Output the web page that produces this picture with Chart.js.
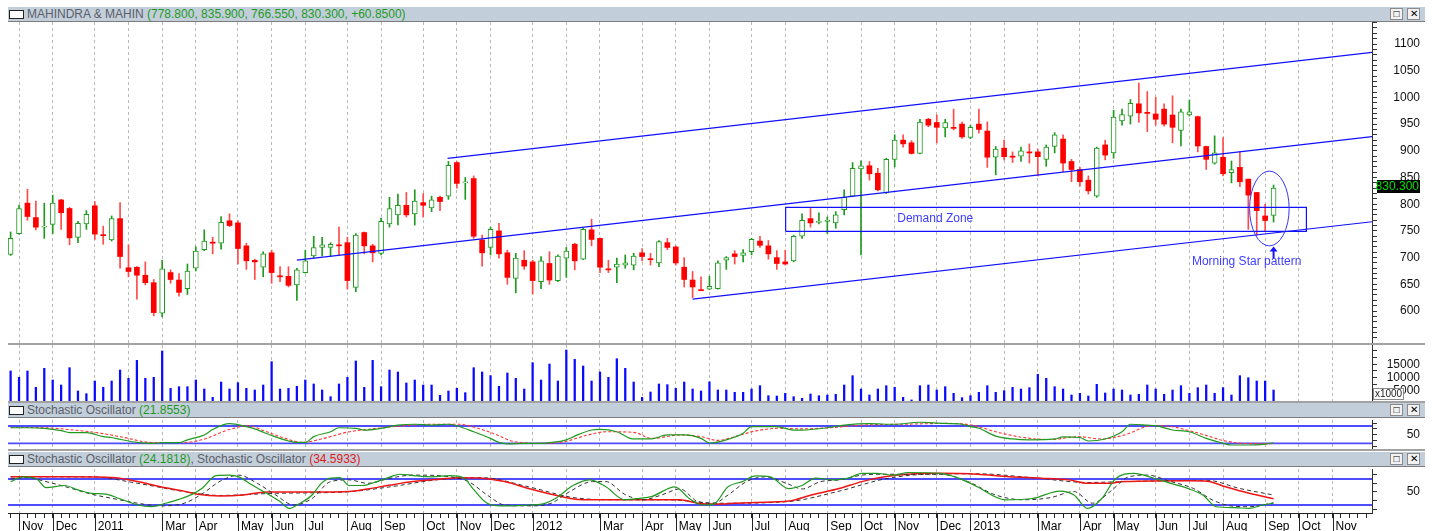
<!DOCTYPE html>
<html>
<head>
<meta charset="utf-8">
<script src="https://cdn.jsdelivr.net/npm/chart.js@4.4.1/dist/chart.umd.min.js"></script>
<style>
  html, body { margin: 0; padding: 0; background: #fff; }
  #wrap { position: relative; width: 1432px; height: 531px; overflow: hidden; font-family: "Liberation Sans", Arial, sans-serif; }
  canvas { position: absolute; left: 0; z-index: 1; }
  .bar { position: absolute; left: 8px; width: 1417px; height: 14px; background: #c3cedb; border-bottom: 1px solid #7d7d7d; font-size: 12px; line-height: 14px; white-space: nowrap; z-index: 2; }
  .icon { position: absolute; left: 1px; top: 3px; width: 13px; height: 7px; border: 1px solid #222; background: #fff; }
  .ttl { position: absolute; left: 19px; top: 0; color: #5a6068; }
  .btn { position: absolute; top: 1px; width: 11px; height: 10px; border: 1px solid #8a8a8a; background: #f2f2f2; font-size: 10px; line-height: 10px; text-align: center; color: #000; }
  .sep { position: absolute; left: 8px; width: 1417px; height: 2px; background: #a2a2a2; z-index: 2; }
  .g { color: #1f9a1f; }
  .r { color: #e01b1b; }
</style>
</head>
<body>
<div id="wrap">
  <div class="bar" style="top:7px"><span class="icon"></span><span class="ttl">MAHINDRA &amp; MAHIN <span class="g">(778.800, 835.900, 766.550, 830.300, +60.8500)</span></span><span class="btn" style="left:1382px">&#9633;</span><span class="btn" style="left:1399px">&#10005;</span></div>
  <canvas id="main" width="1432" height="337" style="top:14px"></canvas>
  <div class="sep" style="top:343px"></div>
  <canvas id="vol" width="1432" height="72" style="top:337px"></canvas>
  <div class="sep" style="top:401px"></div>
  <div class="bar" style="top:403px"><span class="icon"></span><span class="ttl">Stochastic Oscillator <span class="g">(21.8553)</span></span><span class="btn" style="left:1382px">&#9633;</span><span class="btn" style="left:1399px">&#10005;</span></div>
  <canvas id="st1" width="1432" height="45" style="top:412px"></canvas>
  <div class="sep" style="top:449px"></div>
  <div class="bar" style="top:452px"><span class="icon"></span><span class="ttl">Stochastic Oscillator <span class="g">(24.1818)</span>, Stochastic Oscillator <span class="r">(34.5933)</span></span><span class="btn" style="left:1382px">&#9633;</span><span class="btn" style="left:1399px">&#10005;</span></div>
  <canvas id="st2" width="1432" height="70" style="top:461px"></canvas>
</div>
<script>
// weekly candles, week 0 = last week of Oct 2010
const opens = [706,745,802,775,757,762,808,792,738,763, 797,743,733,773,681,682,667,653,596,672,
  658,642,680,715,729,727,769,765,722,695, 682,709,666,665,649,672,703,719,719,724,
  728,644,747,722,708,763,780,798,782,803, 793,813,815,878,840,848,733,719,750,709,
  661,695,692,655,689,657,699,725,697,752, 736,679,682,686,686,709,698,690,728,720,
  682,658,640,641,642,695,707,704,711,731, 722,700,692,694,740,773,766,768,765,790,
  815,866,872,858,821,884,920,915,895,959, 953,943,944,950,925,950,937,888,905,890,
  890,898,898,884,908,922,880,865,845,815, 911,896,956,965,988,972,969,978,967,938,
  967,964,908,877,888,859,869,847,822,778, 778.8];
const highs = [748,798,828,806,802,817,809,794,768,788, 805,759,778,803,724,683,692,659,695,677,
  670,688,720,752,738,777,782,769,727,697, 711,714,683,683,680,714,740,738,728,757,
  738,745,748,725,774,813,819,822,827,820, 815,815,880,880,850,853,742,757,764,714,
  708,713,695,702,711,705,719,727,755,772, 737,695,699,705,708,717,708,732,736,722,
  700,674,664,665,694,702,713,715,736,740, 732,713,714,742,782,792,784,776,786,827,
  878,881,880,867,886,930,930,919,959,961, 967,959,978,954,948,978,954,908,920,898,
  907,913,903,911,934,930,884,869,853,907, 920,976,978,996,1027,1011,1000,988,1003,978,
  995,965,909,928,925,881,898,847,822,800, 835.9];
const lows = [704,744,770,752,736,745,753,724,728,753, 734,725,731,680,664,622,649,591,589,652,
  628,631,675,713,707,716,758,688,678,659, 664,652,655,645,620,671,700,703,702,705,
  641,636,707,692,705,757,761,776,761,776, 786,788,809,830,809,736,684,705,699,650,
  634,678,632,642,650,655,663,677,696,722, 672,672,653,680,677,694,686,683,715,686,
  645,625,638,640,641,678,688,692,705,719, 697,678,686,692,736,757,763,745,755,780,
  814,705,845,825,820,870,907,894,894,945, 915,926,939,923,923,933,869,855,883,878,
  880,877,853,871,896,861,842,834,819,813, 883,886,948,950,953,936,948,946,915,909,
  965,898,865,875,853,840,833,753,742,750, 766.55];
const closes = [736,792,777,757,759,802,784,737,764,781, 744,741,773,702,674,667,653,597,679,659,
  635,675,712,731,727,766,760,717,694,692, 707,672,664,648,677,694,719,724,725,722,
  657,742,722,709,768,792,798,780,806,798, 808,805,873,839,842,740,709,753,707,663,
  699,684,657,694,658,703,712,694,753,734, 682,677,688,690,703,702,696,730,719,690,
  659,645,638,646,690,700,702,709,734,723, 707,689,688,740,770,765,768,770,780,813,
  867,872,857,827,884,920,913,895,954,948, 944,953,942,926,944,940,888,903,889,888,
  900,896,889,907,930,877,865,842,825,905, 892,963,968,989,971,970,959,950,944,973,
  973,909,884,896,857,865,842,817,788,769.45, 830.3];
// volume, in thousands
const volumes = [12500,10150,12500,6400,13500,9140,7270,13740,5040,4040,
  8770,6400,8770,12870,9760,16470,9760,10150,19960,6030,
  6650,6650,9140,5780,2670,8390,5780,8140,6030,5410,
  7270,15980,5780,6030,6780,9140,7650,5410,2920,7650,
  10150,16230,6400,16470,6650,12870,12130,8020,9140,7270,
  7270,3420,5040,6030,4410,13740,12130,10770,6780,11750,
  9760,5780,15610,9140,15110,8770,20330,16840,14360,8770,
  12130,10150,17090,13500,8390,2670,4660,7650,7400,6030,
  8390,5780,5040,8450,5410,5410,4540,4540,5780,7020,
  3290,3170,4170,2920,2300,3920,3290,3540,3790,7270,
  10750,5780,3540,5780,7020,6400,2670,1700,7020,7270,
  5410,6650,4170,2550,3290,4540,7020,4540,5160,6400,
  5780,6280,11250,9760,6650,5780,3540,4170,3170,7520,
  4290,5780,5410,3540,3790,7270,5780,3790,5410,7020,
  4170,6280,7270,4170,6280,3540,10750,10000,8770,8770, 5410];
const volumeTicks = [2500, 5000, 7500, 10000, 12500, 15000, 17500, 20000];
const volumeTickLabels = [5000, 10000, 15000];

// month boundaries (week index) and their axis labels
const monthTickIdx = [1,5,10,14,18,22,27,31,35,40,44,49,53,57,62,66,70,75,79,83,88,92,97,101,105,110,114,118,122,127,131,136,140,144,149,153,157];
const monthLabels = ["Nov","Dec","2011","","Mar","Apr","May","Jun","Jul","Aug","Sep","Oct","Nov","Dec","2012","","Mar","Apr","May","Jun","Jul","Aug","Sep","Oct","Nov","Dec","2013","","Mar","Apr","May","Jun","Jul","Aug","Sep","Oct","Nov"];

// stochastic readings [week, value]
const stoch1K = [[0,74],[2,74],[4,72],[6,64],[7,57],[9,57],[11,43],[12,40],[13,34],[15,23],[17,20],[18,22],[20,22],[21,32],[23,49],[24,68],[26,88],[28,78],[29,70],[31,47],[33,28],[34,23],[35,23],[36,43],[38,60],[39,74],[41,72],[42,66],[44,72],[46,83],[48,86],[50,83],[52,86],[53,81],[55,60],[57,37],[58,23],[59,18],[61,20],[63,20],[64,22],[66,32],[67,45],[69,66],[70,68],[72,60],[74,35],[76,35],[78,49],[80,49],[82,37],[83,21],[85,32],[87,55],[88,78],[91,78],[93,66],[94,66],[97,74],[99,83],[102,88],[105,86],[108,93],[110,90],[113,86],[114,78],[115,72],[117,45],[119,35],[121,32],[124,35],[125,42],[127,40],[128,28],[130,35],[132,60],[133,86],[135,83],[136,81],[138,66],[140,60],[142,37],[144,20],[145,14],[147,14],[149,17],[150,21.86]];
const stoch1D = [[0,75],[4,74],[7.5,66],[10.7,55],[13.5,40],[16.7,23],[20.6,23],[22.7,32],[26,68],[28.2,81],[30.4,60],[32.6,37],[34.7,23],[36.9,35],[40.2,60],[42.4,68],[45.6,78],[50,86],[53.3,86],[55.5,72],[57.6,51],[59.8,26],[63.1,20],[65.3,23],[68.6,49],[70.7,60],[74,58],[76.2,37],[79.5,49],[82,43],[84,30],[85,35],[88.5,63],[91.3,72],[94,70],[97.3,74],[101.1,83],[106,86],[111.5,89],[114.2,83],[117,60],[120.3,40],[123.5,33],[126.8,43],[129.6,35],[132.3,49],[135.6,81],[137.8,78],[141.1,55],[144.3,28],[147,19],[150,19]];
const stoch2K = [[0,74],[1.5,85],[3.1,80],[4.2,60],[6.4,65],[8,55],[9.6,47],[11.3,45],[12.9,35],[15.1,20],[16.7,16],[18.4,24],[20,33],[21.6,45],[22.7,58],[24.4,88],[26,89],[27.1,85],[28.7,66],[30.4,47],[32,28],[33.1,12],[34.2,22],[35.8,43],[36.9,70],[38,82],[39.1,83],[40.2,65],[41.8,65],[43.5,74],[45.1,85],[46.2,91],[47.8,88],[50,85],[52.2,88],[53.8,83],[54.9,58],[56.6,24],[58.2,18],[59.8,18],[61.5,20],[63.1,22],[64.7,35],[66.9,66],[68.8,78],[70.7,62],[72.9,32],[74.6,35],[76.2,40],[78.9,62],[80.6,35],[82.2,20],[83.5,22],[85.2,62],[86.9,74],[88.5,87],[90.2,85],[92.4,58],[94,65],[95.6,82],[97.8,78],[99.5,82],[101.1,93],[102.8,93],[104.9,89],[106.6,95],[110.4,93],[112.6,82],[114.8,62],[118.1,32],[121.4,35],[124.6,52],[126.3,43],[127.9,12],[129.6,35],[131.2,80],[133.4,93],[135.6,83],[137.8,70],[140,57],[141.6,43],[143.2,16],[145.4,14],[147.1,12],[148.7,20],[150,24.18]];
const stoch2KSignal = [[0,80],[2,83],[4.2,74],[6.9,60],[9.6,45],[12.4,34],[15.1,24],[17.8,18],[20.6,24],[22.7,45],[24.9,75],[27.1,89],[29.3,70],[31.5,43],[33.6,20],[35.8,35],[38,74],[40.2,78],[42.4,70],[45.1,82],[47.8,89],[52.2,85],[54.4,74],[56.6,43],[58.7,20],[62,18],[64.2,24],[66.4,51],[69.1,74],[70.7,74],[72.9,45],[75.1,32],[77.3,43],[79.5,57],[81.6,28],[83.5,24],[85.2,43],[87.4,74],[89.6,85],[92.4,68],[94,57],[96.2,74],[98.4,78],[101.1,89],[103.3,91],[106.6,91],[110.4,91],[113.7,74],[117,43],[120.3,32],[123.5,37],[126.3,51],[128.5,24],[130.6,51],[132.8,85],[135,89],[137.8,74],[140.5,58],[142.7,32],[144.9,18],[147.1,16],[150,25]];
const stoch2Slow = [[0,85],[3.1,85],[6.9,85],[12.4,83],[15.1,74],[17.8,62],[20.6,52],[22.2,45],[24.9,41],[27.6,43],[30.4,50],[36.9,50],[40.2,51],[42.4,57],[45.1,66],[47.8,74],[51.1,80],[53.3,83],[56,82],[58.7,74],[61.5,58],[64.2,45],[66.9,34],[69.6,32],[79.5,32],[81.6,24],[84.3,22],[85.8,24],[88.5,26],[92.4,29],[95.1,43],[98.4,58],[101.1,74],[103.8,85],[106.6,91],[110.4,93],[114.8,91],[118.6,85],[122.4,82],[125.7,78],[127.9,70],[130.1,70],[132.3,74],[140,76],[142.1,75],[144.3,62],[147.1,47],[150,34.59]];
const stoch2SlowSignal = [[0,85],[9.6,85],[15.1,70],[20.6,51],[24.9,42],[31.5,47],[39.7,50],[45.1,62],[50.6,78],[56,83],[61.5,62],[66.9,37],[72.4,32],[77.8,32],[84.3,24],[92.4,28],[98.4,52],[103.8,80],[108.8,91],[114.8,92],[121.4,83],[127.9,72],[132.3,74],[142.1,77],[146,58],[150,43]];
const stochLevels = [20, 80];
const stochTicks = [10, 30, 50, 70, 90];

// drawn objects on the price panel [week, price]
const channelUpper = [[51.9,886],[161.69,1084.5]];
const channelMiddle = [[34.0,695.4],[161.69,926.4]];
const channelLower = [[81.0,622.4],[161.69,767.2]];
const demandZoneWeeks = [92.05, 153.9];
const demandZonePrice = [749, 794];
const starEllipse = { week: 149.5, price: 792, weekRadius: 2.35, priceRadius: 70 };
const notes = [
  { text: "Demand Zone", week: 105.3, price: 773.5, align: "left" },
  { text: "Morning Star pattern", week: 146.8, price: 693, align: "center" }
];
const arrowWeek = 150, arrowPrice = [698, 721];

const X_MIN = -0.31, X_MAX = 161.69;
const weekTicks = Array.from({ length: 162 }, (_, i) => i);
const lastClose = closes[closes.length - 1];

Chart.defaults.font.family = '"Liberation Sans", Arial, sans-serif';
Chart.defaults.font.size = 12;
Chart.defaults.animation = false;
Chart.defaults.plugins.legend.display = false;
Chart.defaults.plugins.tooltip.enabled = false;

const pts = arr => arr.map(([x, y]) => ({ x, y }));
const isMonth = c => c.tick && monthTickIdx.includes(c.tick.value);

function xAxis(withLabels) {
  return {
    type: "linear", min: X_MIN, max: X_MAX, offset: false,
    afterBuildTicks: a => { a.ticks = (withLabels ? weekTicks : monthTickIdx).map(v => ({ value: v })); },
    grid: {
      color: c => isMonth(c) ? "#b8b8b8" : "rgba(0,0,0,0)",
      lineWidth: 1, offset: false, drawTicks: withLabels, tickLength: 5, tickColor: "#222"
    },
    border: { display: withLabels, color: "#222", dash: [3, 3] },
    ticks: withLabels ? {
      autoSkip: false, maxRotation: 0, minRotation: 0, align: "start", labelOffset: 3, padding: 1, color: "#000",
      callback: v => { const k = monthTickIdx.indexOf(v); return k >= 0 ? monthLabels[k] : ""; }
    } : { display: false },
    afterFit: a => { a.height = withLabels ? 18 : 0; a.paddingLeft = 0; a.paddingRight = 0; }
  };
}

// right-hand value axis with explicit tick values; only `labelled` values get text
function yAxis(min, max, padding, tickValues, labelled) {
  return {
    position: "right", min, max,
    afterBuildTicks: a => { a.ticks = tickValues.map(v => ({ value: v })); },
    grid: { drawOnChartArea: false, drawTicks: true, tickLength: 5, tickColor: "#333" },
    border: { display: true, color: "#333" },
    ticks: {
      crossAlign: "far", padding, autoSkip: false, color: "#111",
      callback: v => labelled.includes(v) ? String(v) : ""
    },
    // fixed axis width; label half-heights must not shrink the plot
    afterFit: a => { a.width = 48; a.paddingTop = 0; a.paddingBottom = 0; }
  };
}

// ---------- price panel ----------
const priceTicks = Array.from({ length: 60 }, (_, i) => 550 + i * 10);
const priceTickLabels = [600, 650, 700, 750, 800, 850, 900, 950, 1000, 1050, 1100];
const up = closes.map((c, i) => c >= opens[i]);
const candleGreen = "#1f9a1f", candleRed = "#ff0000";

const priceMarks = {
  id: "priceMarks",
  afterDatasetsDraw(chart) {
    const { ctx, scales: { x, y } } = chart;
    ctx.save();
    const cx = x.getPixelForValue(starEllipse.week), cy = y.getPixelForValue(starEllipse.price);
    const rx = Math.abs(x.getPixelForValue(starEllipse.week + starEllipse.weekRadius) - cx);
    const ry = Math.abs(y.getPixelForValue(starEllipse.price + starEllipse.priceRadius) - cy);
    ctx.strokeStyle = "#3535ff"; ctx.lineWidth = 1;
    ctx.beginPath(); ctx.ellipse(cx, cy, rx, ry, 0, 0, Math.PI * 2); ctx.stroke();

    const ax = x.getPixelForValue(arrowWeek), ay0 = y.getPixelForValue(arrowPrice[0]), ay1 = y.getPixelForValue(arrowPrice[1]);
    ctx.strokeStyle = "#1515ff"; ctx.fillStyle = "#1515ff"; ctx.lineWidth = 2;
    ctx.beginPath(); ctx.moveTo(ax, ay0); ctx.lineTo(ax, ay1 + 4); ctx.stroke();
    ctx.beginPath(); ctx.moveTo(ax - 4, ay1 + 5); ctx.lineTo(ax + 4, ay1 + 5); ctx.lineTo(ax, ay1); ctx.closePath(); ctx.fill();

    ctx.font = '12px "Liberation Sans", Arial, sans-serif';
    ctx.fillStyle = "#3d3dff"; ctx.textBaseline = "middle";
    notes.forEach(n => { ctx.textAlign = n.align; ctx.fillText(n.text, x.getPixelForValue(n.week), y.getPixelForValue(n.price)); });
    ctx.restore();
  },
  afterDraw(chart) {
    const { ctx, chartArea, scales: { y } } = chart;
    const py = Math.round(y.getPixelForValue(lastClose)) - 1;
    ctx.save();
    ctx.fillStyle = "#000";
    ctx.fillRect(chartArea.right + 5, py - 7, 43, 13);
    ctx.fillStyle = "#00e000"; ctx.textAlign = "right"; ctx.textBaseline = "middle";
    ctx.font = '12px "Liberation Sans", Arial, sans-serif';
    ctx.fillText(lastClose.toFixed(3), chartArea.right + 47, py);
    ctx.restore();
  }
};

const lineDs = (arr, color, width, extra) => Object.assign({
  type: "line", data: pts(arr), borderColor: color, borderWidth: width,
  pointRadius: 0, fill: false, order: 0
}, extra || {});

new Chart(document.getElementById("main"), {
  type: "bar",
  data: {
    datasets: [
      lineDs(channelUpper, "#1010ff", 1.2),
      lineDs(channelMiddle, "#1010ff", 1.2),
      lineDs(channelLower, "#1010ff", 1.2),
      lineDs([[demandZoneWeeks[0], demandZonePrice[0]], [demandZoneWeeks[1], demandZonePrice[0]],
              [demandZoneWeeks[1], demandZonePrice[1]], [demandZoneWeeks[0], demandZonePrice[1]],
              [demandZoneWeeks[0], demandZonePrice[0]]], "#1010ff", 1.2),
      {
        type: "bar", order: 1, grouped: false, barThickness: 5, minBarLength: 1, borderSkipped: false,
        data: closes.map((c, i) => ({ x: i, y: [opens[i], c] })),
        backgroundColor: up.map(u => u ? "#ffffff" : candleRed),
        borderColor: up.map(u => u ? candleGreen : candleRed),
        borderWidth: up.map(u => u ? 1 : 0)
      },
      {
        type: "bar", order: 2, grouped: false, barThickness: 1, borderSkipped: false,
        data: closes.map((c, i) => ({ x: i, y: [lows[i], highs[i]] })),
        backgroundColor: up.map(u => u ? candleGreen : "#ff4a4a")
      }
    ]
  },
  options: {
    responsive: false, events: [],
    layout: { padding: { left: 8, right: 12, top: 8, bottom: 8 } },
    scales: { x: xAxis(false), y: yAxis(540.1, 1141.2, 16, priceTicks, priceTickLabels) }
  },
  plugins: [priceMarks]
});

// ---------- volume panel ----------
const volBox = {
  id: "volBox",
  afterDraw(chart) {
    const { ctx, chartArea } = chart;
    ctx.save();
    ctx.fillStyle = "#fff"; ctx.strokeStyle = "#8a8a8a"; ctx.lineWidth = 1;
    ctx.fillRect(chartArea.right + 1, chartArea.bottom - 13, 30, 11);
    ctx.strokeRect(chartArea.right + 1.5, chartArea.bottom - 12.5, 30, 11);
    ctx.fillStyle = "#222"; ctx.font = '10px "Liberation Sans", Arial, sans-serif';
    ctx.textAlign = "center"; ctx.textBaseline = "middle";
    ctx.fillText("x1000", chartArea.right + 16.5, chartArea.bottom - 7);
    ctx.restore();
  }
};

new Chart(document.getElementById("vol"), {
  type: "bar",
  data: { datasets: [{ data: volumes.map((v, i) => ({ x: i, y: v })), backgroundColor: "#0a0aff", barThickness: 1.6, grouped: false }] },
  options: {
    responsive: false, events: [],
    layout: { padding: { left: 8, right: 12, top: 8, bottom: 8 } },
    scales: { x: xAxis(false), y: yAxis(1307, 22200, 10, volumeTicks, volumeTickLabels) }
  },
  plugins: [volBox]
});

// ---------- stochastic panels ----------
const levelDs = (lvl) => lineDs([[X_MIN, lvl], [X_MAX, lvl]], "#4d4dff", 1.8, { order: 5 });
const smooth = { cubicInterpolationMode: "monotone" };

new Chart(document.getElementById("st1"), {
  type: "line",
  data: {
    datasets: [
      lineDs(stoch1K, "#1f9a1f", 1.2, smooth),
      lineDs(stoch1D, "#ff3535", 1.1, Object.assign({ borderDash: [3, 2] }, smooth)),
      ...stochLevels.map(levelDs)
    ]
  },
  options: {
    responsive: false, events: [],
    layout: { padding: { left: 8, right: 12, top: 8, bottom: 8 } },
    scales: { x: xAxis(false), y: yAxis(0.2, 100.8, 30, stochTicks, [50]) }
  }
});

const monthMarks = {
  id: "monthMarks",
  afterDraw(chart) {
    const { ctx, chartArea, scales: { x } } = chart;
    ctx.save();
    ctx.strokeStyle = "#222"; ctx.lineWidth = 1;
    monthTickIdx.forEach((m, k) => {
      if (!monthLabels[k]) return;
      const px = Math.round(x.getPixelForValue(m)) + 0.5;
      ctx.beginPath(); ctx.moveTo(px, chartArea.bottom); ctx.lineTo(px, chart.height); ctx.stroke();
    });
    ctx.restore();
  }
};

new Chart(document.getElementById("st2"), {
  type: "line",
  data: {
    datasets: [
      lineDs(stoch2K, "#1f9a1f", 1.2, smooth),
      lineDs(stoch2KSignal, "#333333", 1, Object.assign({ borderDash: [4, 3] }, smooth)),
      lineDs(stoch2Slow, "#ee1515", 1.5, smooth),
      lineDs(stoch2SlowSignal, "#333333", 1, Object.assign({ borderDash: [4, 3] }, smooth)),
      ...stochLevels.map(levelDs)
    ]
  },
  options: {
    responsive: false, events: [],
    layout: { padding: { left: 8, right: 12, top: 8, bottom: 0 } },
    scales: { x: xAxis(true), y: yAxis(1.5, 103.1, 30, stochTicks, [50]) }
  },
  plugins: [monthMarks]
});
</script>
</body>
</html>
